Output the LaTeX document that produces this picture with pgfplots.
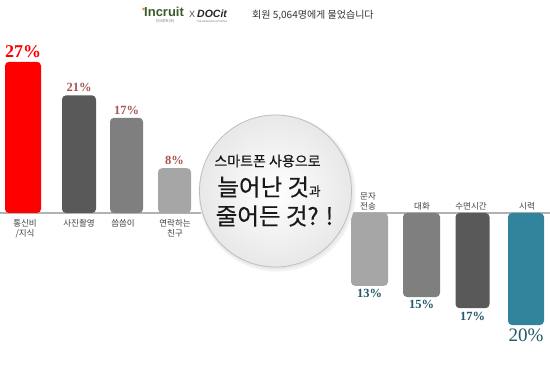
\documentclass[border=0pt]{standalone}
\usepackage{pgfplots}
\pgfplotsset{compat=1.18}
\usepackage{fontspec}
\setmainfont{Liberation Serif}
\newfontfamily\kr{Noto Sans CJK KR}
\newfontfamily\krb{Noto Sans CJK KR}[FakeBold=0.5]
\newfontfamily\lsans{Liberation Sans}
\definecolor{cRed}{HTML}{FF0000}
\definecolor{cDark}{HTML}{595959}
\definecolor{cMid}{HTML}{7F7F7F}
\definecolor{cLight}{HTML}{A6A6A6}
\definecolor{cTeal}{HTML}{31849B}
\definecolor{upLab}{HTML}{A9534F}
\definecolor{dnLab}{HTML}{215968}
\definecolor{catTxt}{HTML}{404040}
\definecolor{incGreen}{HTML}{3D5A2A}
\begin{document}
\begin{tikzpicture}[x=1bp,y=1bp]
\path[use as bounding box] (0,0) rectangle (550,386);
\begin{axis}[at={(0,0)}, anchor=south west, scale only axis,
  width=550bp, height=386bp, xmin=0, xmax=550, ymin=-30.893, ymax=38.036,
  hide axis, clip=false,
  every axis plot/.append style={rounded corners=4bp}]
% baseline
\draw[color=black!30, line width=1.2bp, sharp corners] (axis cs:0,0) -- (axis cs:550,0);
% increased
\addplot[ybar, bar width=36, bar shift=0pt, fill=cRed, draw=none,
  point meta=explicit symbolic, nodes near coords,
  every node near coord/.append style={anchor=south, text=cRed, font=\fontsize{18bp}{18bp}\selectfont\bfseries, yshift=1bp}]
  coordinates {(23,27) [27\%]};
\addplot[ybar, bar width=34, bar shift=0pt, fill=cDark, draw=none,
  point meta=explicit symbolic, nodes near coords,
  every node near coord/.append style={anchor=south, text=upLab, font=\fontsize{12.5bp}{12.5bp}\selectfont\bfseries}]
  coordinates {(79,21) [21\%]};
\addplot[ybar, bar width=33, bar shift=0pt, fill=cMid, draw=none,
  point meta=explicit symbolic, nodes near coords,
  every node near coord/.append style={anchor=south, text=upLab, font=\fontsize{12.5bp}{12.5bp}\selectfont\bfseries}]
  coordinates {(126.5,17) [17\%]};
\addplot[ybar, bar width=33, bar shift=0pt, fill=cLight, draw=none,
  point meta=explicit symbolic, nodes near coords,
  every node near coord/.append style={anchor=south, text=upLab, font=\fontsize{12.5bp}{12.5bp}\selectfont\bfseries}]
  coordinates {(174.5,8) [8\%]};
% decreased
\addplot[ybar, bar width=37, bar shift=0pt, fill=cLight, draw=none,
  point meta=explicit symbolic, nodes near coords,
  every node near coord/.append style={anchor=north, text=dnLab, font=\fontsize{12.5bp}{12.5bp}\selectfont\bfseries}]
  coordinates {(369.5,-13) [13\%]};
\addplot[ybar, bar width=37, bar shift=0pt, fill=cMid, draw=none,
  point meta=explicit symbolic, nodes near coords,
  every node near coord/.append style={anchor=north, text=dnLab, font=\fontsize{12.5bp}{12.5bp}\selectfont\bfseries}]
  coordinates {(421.5,-15) [15\%]};
\addplot[ybar, bar width=34, bar shift=0pt, fill=cDark, draw=none,
  point meta=explicit symbolic, nodes near coords,
  every node near coord/.append style={anchor=north, text=dnLab, font=\fontsize{12.5bp}{12.5bp}\selectfont\bfseries}]
  coordinates {(472.5,-17) [17\%]};
\addplot[ybar, bar width=36, bar shift=0pt, fill=cTeal, draw=none,
  point meta=explicit symbolic, nodes near coords,
  every node near coord/.append style={anchor=north, text=dnLab, font=\fontsize{19bp}{19bp}\selectfont}]
  coordinates {(526,-20) [20\%]};
\end{axis}
% category labels (below baseline, left)
\begin{scope}[every node/.style={inner sep=0pt, anchor=north, align=center, text=catTxt,
    font=\kr\fontsize{8.5bp}{10bp}\selectfont}]
\node at (25,167) {통신비\\/지식};
\node at (79,167) {사진촬영};
\node at (123,167) {씀씀이};
\node at (175,167) {연락하는\\친구};
\end{scope}
% category labels (above baseline, right)
\begin{scope}[every node/.style={inner sep=0pt, anchor=south, align=center, text=catTxt,
    font=\kr\fontsize{8.5bp}{10bp}\selectfont}]
\node at (368,176) {문자\\전송};
\node at (422,176) {대화};
\node at (471,176) {수면시간};
\node at (527,176) {시력};
\end{scope}
% central circle
\fill[black!5] (277,193) circle (78.5);
\fill[black!9] (276.3,193.8) circle (77);
\shade[inner color=white, outer color=black!9] (275.5,195) circle (76);
\draw[black!25, line width=0.8bp] (275.5,195) circle (76);
\node[inner sep=0pt, font=\krb\fontsize{14bp}{14bp}\selectfont, text=black!90] at (267.5,225) {스마트폰 사용으로};
\node[inner sep=0pt, font=\krb\fontsize{23.5bp}{24bp}\selectfont, text=black!90] at (269,199) {늘어난 것{\fontsize{12.5bp}{12bp}\selectfont 과}};
\node[inner sep=0pt, font=\krb\fontsize{23.5bp}{24bp}\selectfont, text=black!90] at (274.5,170) {줄어든 것? !};
% header
\fill[orange] (143.5,377) circle (1.4);
\node[inner sep=0pt, anchor=west, font=\lsans\bfseries\fontsize{13bp}{13bp}\selectfont, text=incGreen] at (144,374) {Incruit};
\node[inner sep=0pt, font=\kr\fontsize{3.5bp}{4bp}\selectfont, text=black!60] at (165,365) {인크루트(주)};
\node[inner sep=0pt, font=\lsans\fontsize{9bp}{9bp}\selectfont, text=black!70] at (192,372) {X};
\node[inner sep=0pt, anchor=west, font=\lsans\bfseries\itshape\fontsize{10.5bp}{10.5bp}\selectfont, text=black!85] at (197,372) {DOCit};
\node[inner sep=0pt, font=\lsans\fontsize{2.6bp}{3bp}\selectfont, text=black!55] at (212,364.5) {THE RESEARCH PORTAL};
\node[inner sep=0pt, anchor=west, font=\kr\fontsize{10bp}{10bp}\selectfont, text=black!80] at (252,371) {회원 5,064명에게 물었습니다};
\end{tikzpicture}
\end{document}
